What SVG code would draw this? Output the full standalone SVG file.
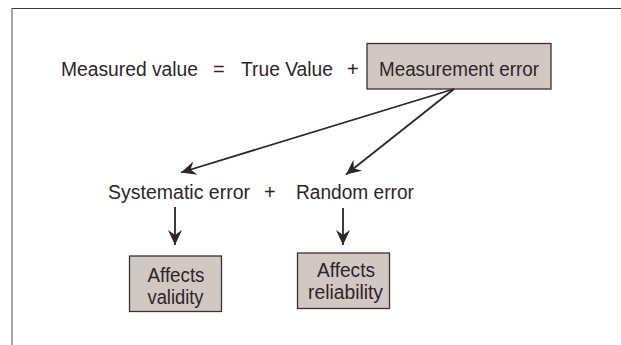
<svg xmlns="http://www.w3.org/2000/svg" width="621" height="345" viewBox="0 0 621 345">
<style>
.t{font-family:"Liberation Sans",Arial,sans-serif;font-size:20px;fill:#2d2529}
.box{fill:#d2c8c3;stroke:#3a3035;stroke-width:1.3}
.ln{stroke:#2d2529;stroke-width:1.8;fill:none}
</style>
<defs>
<marker id="ah" viewBox="-16 -8 17 16" markerWidth="17" markerHeight="16" refX="0" refY="0" orient="auto" markerUnits="userSpaceOnUse">
<path d="M0,0 L-15,-7 L-10,0 L-15,7 Z" fill="#2d2529"/>
</marker>
</defs>
<rect width="621" height="345" fill="#ffffff"/>
<g id="frame">
<line x1="11" y1="8.5" x2="621" y2="8.5" stroke="#3a3035" stroke-width="1.2"/>
<line x1="12" y1="8" x2="12" y2="345" stroke="#8a8588" stroke-width="1.5"/>
</g>
<g id="equation">
<text class="t" x="61" y="76" textLength="137" lengthAdjust="spacingAndGlyphs">Measured value</text>
<text class="t" x="213" y="76">=</text>
<text class="t" x="241" y="76" textLength="92" lengthAdjust="spacingAndGlyphs">True Value</text>
<text class="t" x="347" y="76">+</text>
</g>
<g id="measurement-error">
<rect class="box" x="367" y="43.5" width="184" height="45.5"/>
<text class="t" x="459" y="76" text-anchor="middle" textLength="160" lengthAdjust="spacingAndGlyphs">Measurement error</text>
</g>
<g id="systematic-error">
<text class="t" x="108" y="199" textLength="142" lengthAdjust="spacingAndGlyphs">Systematic error</text>
</g>
<g id="plus2">
<text class="t" x="264" y="199">+</text>
</g>
<g id="random-error">
<text class="t" x="296" y="199" textLength="118" lengthAdjust="spacingAndGlyphs">Random error</text>
</g>
<g id="affects-validity">
<rect class="box" x="129.5" y="256" width="92" height="55.5"/>
<text class="t" x="176" y="282" text-anchor="middle" textLength="57" lengthAdjust="spacingAndGlyphs">Affects</text>
<text class="t" x="175.5" y="304" text-anchor="middle" textLength="56" lengthAdjust="spacingAndGlyphs">validity</text>
</g>
<g id="affects-reliability">
<rect class="box" x="297.5" y="253" width="92" height="55.5"/>
<text class="t" x="346" y="277" text-anchor="middle" textLength="58" lengthAdjust="spacingAndGlyphs">Affects</text>
<text class="t" x="345.5" y="299" text-anchor="middle" textLength="75" lengthAdjust="spacingAndGlyphs">reliability</text>
</g>
<g id="connectors">
<line class="ln" x1="454" y1="89" x2="181" y2="172.5" marker-end="url(#ah)"/>
<line class="ln" x1="454" y1="89" x2="346" y2="174.5" marker-end="url(#ah)"/>
<line class="ln" x1="175" y1="207" x2="175" y2="245" marker-end="url(#ah)"/>
<line class="ln" x1="343" y1="208" x2="343" y2="245" marker-end="url(#ah)"/>
</g>
</svg>
